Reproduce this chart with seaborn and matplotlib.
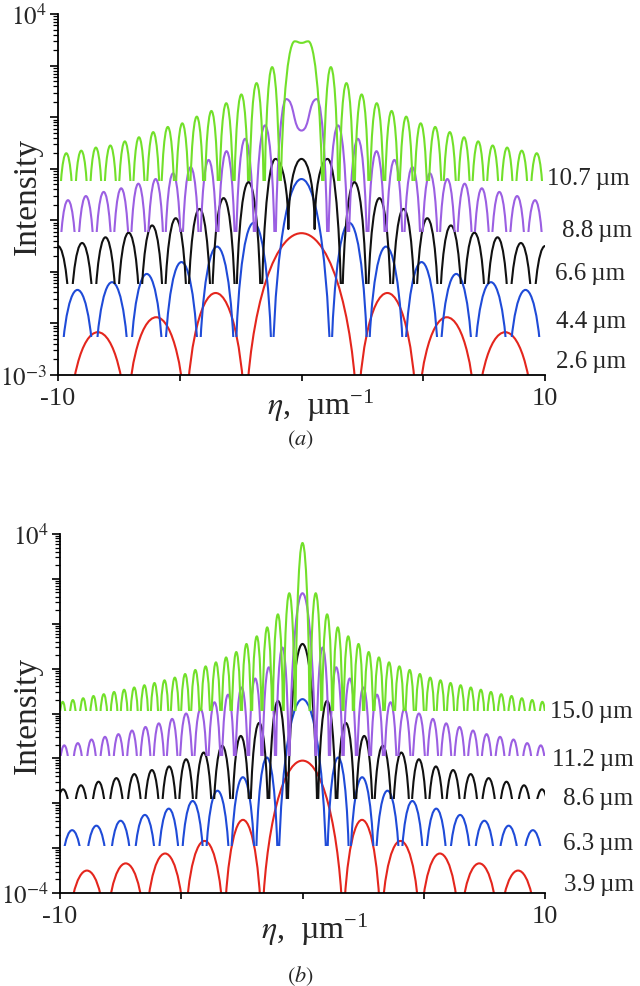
import numpy as np
import seaborn as sns
import matplotlib
matplotlib.use("Agg")
import matplotlib.pyplot as plt
from matplotlib.path import Path
from matplotlib.patches import PathPatch, Rectangle
from matplotlib.ticker import LogLocator, FixedLocator, FuncFormatter

# All intensities as log10 values; eta in 1/um.
# Each curve: visible floor, centre profile (eta, log10 I, kind),
# zeros of the side lobes (positive side) and the side-lobe tops.
# kind "p" = smooth extremum, "v" = cusp / zero.  Pattern is mirrored.

# ---- panel (a) ----
a26_floor = -3.0
a26_center = [(0.0, -0.25, "p")]
a26_zeros = [2.3, 4.75, 7.18, 9.55]
a26_tops = [-1.41, -1.88, -2.17]

a44_floor = -2.26
a44_center = [(0.0, 0.80, "p")]
a44_zeros = [1.2, 2.73, 4.21, 5.65, 7.06, 8.5, 9.9]
a44_tops = [-0.05, -0.51, -0.81, -1.04, -1.20, -1.35]

a66_floor = -1.24
a66_center = [(0.0, 1.19, "p"), (0.54, -0.17, "v"), (1.07, 1.19, "p")]
a66_zeros = [1.65, 2.7, 3.7, 4.68, 5.65, 6.62, 7.58, 8.52, 9.5, 10.5]
a66_tops = [0.74, 0.43, 0.22, 0.04, -0.10, -0.24, -0.33, -0.44, -0.50]

a88_floor = -0.22
a88_center = [(0.0, 1.74, "p"), (0.63, 2.35, "p")]
a88_zeros = [1.08, 1.92, 2.71, 3.45, 4.18, 4.92, 5.63, 6.35, 7.05, 7.76, 8.49, 9.22, 9.96]
a88_tops = [1.84, 1.58, 1.34, 1.17, 1.03, 0.91, 0.80, 0.71, 0.62, 0.55, 0.47, 0.39]

a107_floor = 0.77
a107_center = [(0.0, 3.44, "p"), (0.28, 3.47, "p")]
a107_zeros = [0.88, 1.53, 2.16, 2.78, 3.40, 4.0, 4.6, 5.19, 5.79, 6.39, 6.96, 7.55, 8.15, 8.74, 9.35, 9.97]
a107_tops = [2.97, 2.66, 2.44, 2.27, 2.12, 2.01, 1.88, 1.81, 1.71, 1.61, 1.53, 1.45, 1.41, 1.35, 1.30]

# ---- panel (b) ----
b39_floor = -4.0
b39_center = [(0.0, -1.05, "p")]
b39_zeros = [1.68, 3.23, 4.85, 6.48, 8.1, 9.68]
b39_tops = [-2.37, -2.84, -3.12, -3.34, -3.50]

b63_floor = -2.95
b63_center = [(0.0, 0.32, "p")]
b63_zeros = [1.0, 1.94, 2.98, 4.03, 5.03, 6.0, 7.0, 8.0, 9.0, 10.0]
b63_tops = [-0.98, -1.42, -1.72, -1.95, -2.12, -2.26, -2.39, -2.50, -2.60]

b86_floor = -1.9
b86_center = [(0.0, 1.55, "p")]
b86_zeros = [0.62, 1.4, 2.17, 2.92, 3.7, 4.45, 5.15, 5.85, 6.57, 7.3, 8.05, 8.77, 9.5, 10.25]
b86_tops = [0.28, -0.21, -0.50, -0.72, -0.87, -1.02, -1.18, -1.26, -1.35, -1.44, -1.52, -1.60, -1.69]

b112_floor = -0.94
b112_center = [(0.0, 2.68, "p")]
b112_zeros = [0.55, 1.11, 1.67, 2.23, 2.79, 3.35, 3.91, 4.5, 5.1, 5.65, 6.2, 6.75, 7.31, 7.87, 8.42, 8.98, 9.55, 10.1]
b112_tops = [1.47, 1.03, 0.78, 0.58, 0.42, 0.25, 0.10, 0.0, -0.12, -0.22, -0.30, -0.38, -0.46, -0.52, -0.58, -0.66, -0.71]

b150_floor = 0.05
b150_center = [(0.0, 3.80, "p")]
b150_zeros = [0.3, 0.79, 1.24, 1.67, 2.1, 2.52, 2.94, 3.36, 3.78, 4.21, 4.63, 5.05, 5.48, 5.9,
              6.31, 6.73, 7.15, 7.56, 7.98, 8.41, 8.83, 9.26, 9.68, 10.1]
b150_tops = [2.68, 2.21, 1.92, 1.72, 1.55, 1.37, 1.25, 1.14, 1.05, 0.97, 0.88, 0.80, 0.74, 0.68,
             0.63, 0.58, 0.53, 0.48, 0.43, 0.39, 0.34, 0.30, 0.26]

a_labels = ["2.6\u2009\u00b5m", "4.4\u2009\u00b5m", "6.6\u2009\u00b5m", "8.8\u2009\u00b5m", "10.7\u2009\u00b5m"]
b_labels = ["3.9\u2009\u00b5m", "6.3\u2009\u00b5m", "8.6\u2009\u00b5m", "11.2\u2009\u00b5m", "15.0\u2009\u00b5m"]
colors = ["#e4261d", "#1f4bd8", "#111111", "#9b5fe2", "#72e02a"]

DEPTH = 1.3   # how far below the visible floor the zeros are drawn
K = 0.55


def keypoints(center, zeros, tops, floor):
    base = floor - DEPTH
    pts = list(center)
    for i, z in enumerate(zeros):
        pts.append((z, base, "v"))
        if i < len(tops):
            pts.append(((z + zeros[i + 1]) / 2, tops[i], "p"))
    left = [(-x, y, k) for x, y, k in reversed(pts) if x > 0]
    return left + pts


def ctrl(p, q):
    if p[2] == "p":
        return (p[0] + K * (q[0] - p[0]), p[1])
    return (p[0], p[1] + K * (q[1] - p[1]))


def draw_curve(ax, center, zeros, tops, floor, color):
    pts = keypoints(center, zeros, tops, floor)
    verts = [(pts[0][0], pts[0][1])]
    codes = [Path.MOVETO]
    for p, q in zip(pts[:-1], pts[1:]):
        verts += [ctrl(p, q), ctrl(q, p), (q[0], q[1])]
        codes += [Path.CURVE4] * 3
    verts = [(x, 10 ** y) for x, y in verts]
    patch = PathPatch(Path(verts, codes), fill=False, edgecolor=color, lw=1.5,
                      capstyle="butt", joinstyle="round")
    ax.add_patch(patch)
    clip = Rectangle((-10, 10 ** floor), 20, 1e6, transform=ax.transData)
    patch.set_clip_path(clip)


sns.set_theme(style="ticks")
plt.rcParams["font.family"] = ["Liberation Serif", "DejaVu Serif"]
plt.rcParams["mathtext.fontset"] = "stix"

fig = plt.figure(figsize=(6.4, 9.87), dpi=100)
ax_a = fig.add_axes([58 / 640, 1 - 376 / 987, 487 / 640, 361 / 987])
ax_b = fig.add_axes([60 / 640, 1 - 894 / 987, 485 / 640, 359 / 987])

curves_a = [
    (a26_center, a26_zeros, a26_tops, a26_floor),
    (a44_center, a44_zeros, a44_tops, a44_floor),
    (a66_center, a66_zeros, a66_tops, a66_floor),
    (a88_center, a88_zeros, a88_tops, a88_floor),
    (a107_center, a107_zeros, a107_tops, a107_floor),
]
curves_b = [
    (b39_center, b39_zeros, b39_tops, b39_floor),
    (b63_center, b63_zeros, b63_tops, b63_floor),
    (b86_center, b86_zeros, b86_tops, b86_floor),
    (b112_center, b112_zeros, b112_tops, b112_floor),
    (b150_center, b150_zeros, b150_tops, b150_floor),
]


def style_axis(ax, ymin):
    ax.set_yscale("log")
    ax.set_xlim(-10, 10)
    ax.set_ylim(10.0 ** ymin, 1e4)
    sns.despine(ax=ax)
    for s in ["left", "bottom"]:
        ax.spines[s].set_color("black")
        ax.spines[s].set_linewidth(1.3)
    ax.yaxis.set_major_locator(LogLocator(base=10, numticks=20))
    ax.yaxis.set_minor_locator(LogLocator(base=10, subs=np.arange(2, 10), numticks=200))
    ends = {ymin, 4}
    ax.yaxis.set_major_formatter(FuncFormatter(
        lambda v, pos: "$10^{%d}$" % round(np.log10(v)) if round(np.log10(v)) in ends else ""))
    ax.xaxis.set_major_locator(FixedLocator([-10, -5, 0, 5, 10]))
    ax.set_xticklabels(["-10", "", "", "", "10"])
    ax.tick_params(axis="y", which="major", direction="out", length=6, width=1.2,
                   labelsize=18, pad=2, color="black")
    ax.tick_params(axis="y", which="minor", direction="out", length=3.5, width=0.9, color="black")
    ax.tick_params(axis="x", direction="out", length=4, width=1.2, labelsize=19, pad=5, color="black")
    ax.set_facecolor("white")


for ax, curves, ymin in [(ax_a, curves_a, -3), (ax_b, curves_b, -4)]:
    style_axis(ax, ymin)
    for (center, zeros, tops, floor), c in zip(curves, colors):
        draw_curve(ax, center, zeros, tops, floor, c)

# curve labels (figure pixels: x left edge, y baseline)
a_pos = [(556, 368), (556, 328), (555, 280), (562, 237), (547, 185)]
b_pos = [(564, 891), (563, 850), (563, 805), (552, 766), (550, 718)]
for labels, pos in [(a_labels, a_pos), (b_labels, b_pos)]:
    for lab, (x, y) in zip(labels, pos):
        fig.text(x / 640, 1 - y / 987, lab, fontsize=18, ha="left", va="baseline")

for yc in [196, 715]:
    fig.text(27 / 640, 1 - yc / 987, "Intensity", fontsize=24, rotation=90,
             ha="center", va="center")
for xc, yc in [(321, 406), (315, 930)]:
    fig.text(xc / 640, 1 - yc / 987, r"$\eta$,  \u00b5m$^{\mathregular{-1}}$".replace("\\u00b5", "\u00b5"),
             fontsize=23, ha="center", va="center")
fig.text(300 / 640, 1 - 440 / 987, r"$(\mathit{a})$", fontsize=16, ha="center", va="center")
fig.text(300 / 640, 1 - 976 / 987, r"$(\mathit{b})$", fontsize=16, ha="center", va="center")

fig.savefig("out.png", dpi=100, facecolor="white")
